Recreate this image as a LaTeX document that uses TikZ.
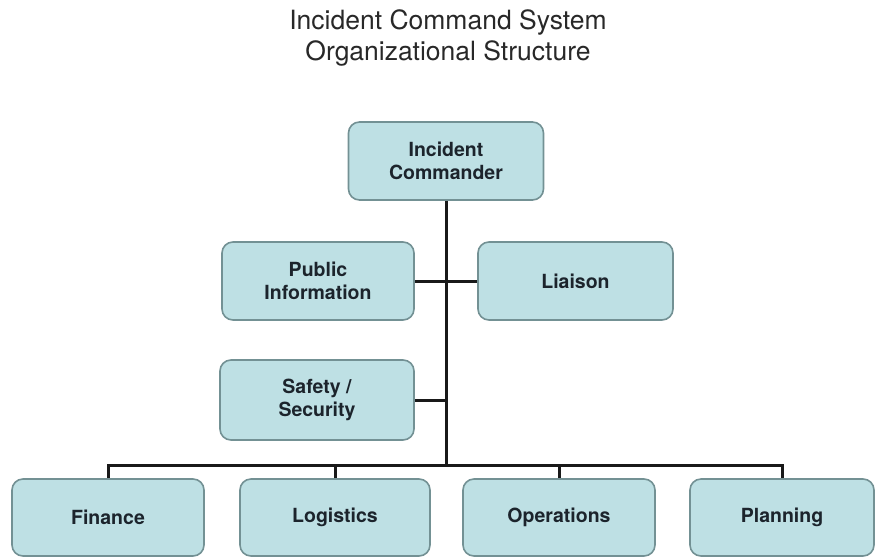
\documentclass[tikz,border=0pt]{standalone}
\usepackage{fontspec}
\setmainfont{TeX Gyre Heros}
\definecolor{boxfill}{RGB}{190,224,228}
\definecolor{boxedge}{RGB}{115,145,148}
\definecolor{boxtext}{RGB}{28,36,44}
\definecolor{titletext}{RGB}{40,40,40}
\begin{document}
\begin{tikzpicture}[x=1pt,y=-1pt,
  unit/.style={draw=boxedge,fill=boxfill,line width=1.6pt,rounded corners=11pt,
    minimum height=78pt,inner sep=0pt,align=center,text=boxtext,
    font=\fontsize{19.5}{23}\selectfont\bfseries},
  link/.style={line width=3pt,draw=black!90}]
\useasboundingbox (0,0) rectangle (875,558);
\node[text=titletext,align=center,font=\fontsize{26.5}{30.5}\selectfont] (title) at (448,38)
  {Incident Command System\\Organizational Structure};
\node[unit,minimum width=195pt] (ic) at (446,161) {Incident\\Commander};
\node[unit,minimum width=192pt] (pi) at (318,281) {Public\\Information};
\node[unit,minimum width=195pt] (li) at (575.5,281) {Liaison};
\node[unit,minimum width=194pt,minimum height=80pt] (ss) at (317,400) {Safety /\\Security};
\node[unit,minimum width=192pt,minimum height=77pt,text depth=1pt] (fin) at (108,517.5) {Finance};
\node[unit,minimum width=190pt,minimum height=77pt] (log) at (335,517.5) {Logistics};
\node[unit,minimum width=192pt,minimum height=77pt] (ops) at (559,517.5) {Operations};
\node[unit,minimum width=184pt,minimum height=77pt] (pla) at (782,517.5) {Planning};
\coordinate (bus) at (446,465);
\draw[link] (ic.south) -- (bus);
\draw[link] (pi.east) -- (li.west);
\draw[link] (ss.east) -- (ss.east -| bus);
\draw[link] (fin.north) -- (fin.north |- bus) -- (pla.north |- bus) -- (pla.north);
\draw[link] (log.north) -- (log.north |- bus);
\draw[link] (ops.north) -- (ops.north |- bus);
\end{tikzpicture}
\end{document}
